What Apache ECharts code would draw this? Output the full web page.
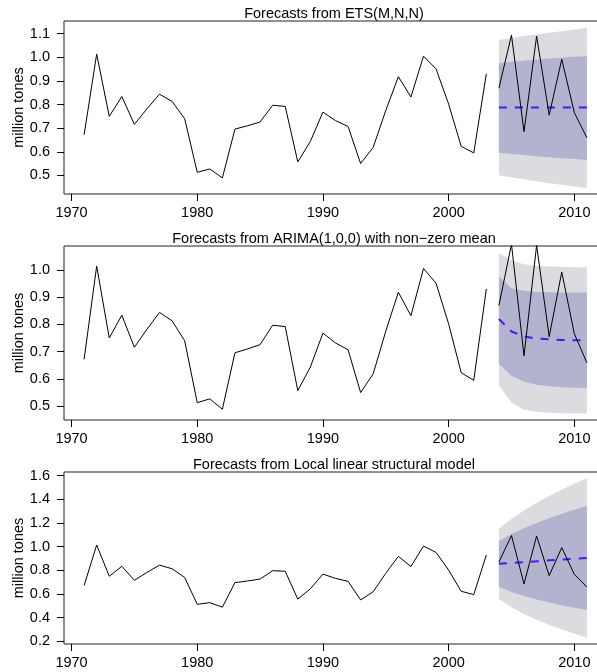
<!DOCTYPE html>
<html>
<head>
<meta charset="utf-8">
<script src="https://cdn.jsdelivr.net/npm/echarts@6/dist/echarts.min.js"></script>
<style>
  html, body { margin: 0; padding: 0; background: #fff; }
  #chart { width: 597px; height: 672px; }
</style>
</head>
<body>
<div id="chart"></div>
<script>
// observed series 1971-2003
var trainYears = [1971, 1972, 1973, 1974, 1975, 1976, 1977, 1978, 1979, 1980, 1981,
  1982, 1983, 1984, 1985, 1986, 1987, 1988, 1989, 1990, 1991, 1992, 1993, 1994,
  1995, 1996, 1997, 1998, 1999, 2000, 2001, 2002, 2003]
var train = [0.672, 1.014, 0.750, 0.834, 0.716, 0.782, 0.844, 0.813, 0.740, 0.513,
  0.527, 0.489, 0.696, 0.710, 0.726, 0.797, 0.792, 0.557, 0.644, 0.768, 0.732,
  0.707, 0.550, 0.619, 0.775, 0.918, 0.832, 1.005, 0.951, 0.802, 0.623, 0.595, 0.930]

// hold-out 2004-2011
var testYears = [2004, 2005, 2006, 2007, 2008, 2009, 2010, 2011]
var test = [0.869, 1.094, 0.685, 1.090, 0.755, 0.992, 0.766, 0.659]

// ETS(M,N,N)
var etsMean = [0.787, 0.787, 0.787, 0.787, 0.787, 0.787, 0.787, 0.787]
var etsLo80 = [0.596, 0.591, 0.586, 0.581, 0.577, 0.573, 0.569, 0.565]
var etsHi80 = [0.975, 0.981, 0.986, 0.991, 0.995, 0.999, 1.002, 1.005]
var etsLo95 = [0.500, 0.491, 0.483, 0.475, 0.467, 0.460, 0.453, 0.446]
var etsHi95 = [1.073, 1.082, 1.090, 1.097, 1.104, 1.111, 1.118, 1.125]

// ARIMA(1,0,0)
var arMean = [0.820, 0.774, 0.756, 0.748, 0.745, 0.743, 0.742, 0.742]
var arLo80 = [0.656, 0.612, 0.591, 0.579, 0.573, 0.570, 0.568, 0.567]
var arHi80 = [0.976, 0.933, 0.923, 0.919, 0.918, 0.917, 0.917, 0.917]
var arLo95 = [0.576, 0.514, 0.487, 0.480, 0.476, 0.474, 0.473, 0.473]
var arHi95 = [1.061, 1.034, 1.021, 1.015, 1.012, 1.011, 1.010, 1.010]

// StructTS local linear trend
var stMean = [0.855, 0.862, 0.869, 0.876, 0.884, 0.891, 0.898, 0.905]
var stLo80 = [0.662, 0.618, 0.583, 0.553, 0.528, 0.505, 0.484, 0.465]
var stHi80 = [1.048, 1.106, 1.155, 1.199, 1.240, 1.277, 1.312, 1.345]
var stLo95 = [0.560, 0.489, 0.432, 0.382, 0.340, 0.301, 0.265, 0.232]
var stHi95 = [1.150, 1.235, 1.306, 1.370, 1.428, 1.481, 1.531, 1.578]

var titles = ['Forecasts from ETS(M,N,N)',
  'Forecasts from ARIMA(1,0,0) with non\u2212zero mean',
  'Forecasts from Local linear structural model']
var xTicks = [1970, 1980, 1990, 2000, 2010]
var yTicks1 = [0.5, 0.6, 0.7, 0.8, 0.9, 1.0, 1.1]
var yTicks2 = [0.5, 0.6, 0.7, 0.8, 0.9, 1.0]
var yTicks3 = [0.2, 0.4, 0.6, 0.8, 1.0, 1.2, 1.4, 1.6]

var FONT = 'Liberation Sans'
var FS = 14.5
var panels = [
  { top: 21, height: 173, ymin: 0.421, ymax: 1.154, ticks: yTicks1,
    fc: [etsMean, etsLo80, etsHi80, etsLo95, etsHi95] },
  { top: 246, height: 174, ymin: 0.4495, ymax: 1.0875, ticks: yTicks2,
    fc: [arMean, arLo80, arHi80, arLo95, arHi95] },
  { top: 472, height: 172, ymin: 0.178, ymax: 1.630, ticks: yTicks3,
    fc: [stMean, stLo80, stHi80, stLo95, stHi95] }
]

function pairs(xs, ys) {
  return xs.map(function (x, i) { return [x, ys[i]] })
}

// a filled band between lo and hi, drawn once as one polygon
function bandSeries(k, lo, hi, color, z) {
  return {
    type: 'custom', xAxisIndex: k, yAxisIndex: k, silent: true, z: z, clip: true,
    data: testYears.map(function (x, i) { return [x, lo[i], hi[i]] }),
    encode: { x: 0, y: [1, 2] },
    renderItem: function (params, api) {
      if (params.dataIndex !== 0) return null
      var pts = []
      testYears.forEach(function (x, i) { pts.push(api.coord([x, hi[i]])) })
      for (var i = testYears.length - 1; i >= 0; i--) pts.push(api.coord([testYears[i], lo[i]]))
      return { type: 'polygon', shape: { points: pts }, style: { fill: color, stroke: null } }
    }
  }
}

var grids = [], xAxes = [], yAxes = [], series = [], titleList = []
panels.forEach(function (p, k) {
  grids.push({ left: 64, top: p.top, width: 543, height: p.height,
    containLabel: false, outerBoundsMode: 'none',
    show: true, borderColor: '#222', borderWidth: 1, backgroundColor: 'transparent' })
  titleList.push({ text: titles[k], left: 334, top: p.top - 15, padding: 0,
    textAlign: 'center',
    textStyle: { fontFamily: FONT, fontSize: FS, fontWeight: 'normal', color: '#000' } })
  xAxes.push({ type: 'value', gridIndex: k, min: 1969.4, max: 2012.6,
    splitLine: { show: false }, axisLine: { show: false },
    axisTick: { show: true, inside: false, length: 7, customValues: xTicks,
      lineStyle: { color: '#000' } },
    axisLabel: { customValues: xTicks, margin: 11, color: '#000',
      fontFamily: FONT, fontSize: FS,
      formatter: function (v) { return String(v) } } })
  yAxes.push({ type: 'value', gridIndex: k, min: p.ymin, max: p.ymax,
    name: 'million tones', nameLocation: 'middle', nameGap: 38, nameMoveOverlap: false,
    nameTextStyle: { fontFamily: FONT, fontSize: FS, color: '#000' },
    splitLine: { show: false }, axisLine: { show: false },
    axisTick: { show: true, inside: false, length: 7, customValues: p.ticks,
      lineStyle: { color: '#000' } },
    axisLabel: { customValues: p.ticks, margin: 14, color: '#000',
      fontFamily: FONT, fontSize: FS,
      formatter: function (v) { return v.toFixed(1) } } })

  var mean = p.fc[0], lo80 = p.fc[1], hi80 = p.fc[2], lo95 = p.fc[3], hi95 = p.fc[4]
  series.push(bandSeries(k, lo95, hi95, '#DBDBE0', 1))
  series.push(bandSeries(k, lo80, hi80, '#B1B3CF', 2))

  series.push({ type: 'line', xAxisIndex: k, yAxisIndex: k, data: pairs(trainYears, train),
    symbol: 'none', lineStyle: { color: '#000', width: 1 }, z: 3 })
  series.push({ type: 'line', xAxisIndex: k, yAxisIndex: k, data: pairs(testYears, mean),
    symbol: 'none', lineStyle: { color: '#5511FF', width: 2, type: [8, 8] }, z: 3 })
  series.push({ type: 'line', xAxisIndex: k, yAxisIndex: k, data: pairs(testYears, test),
    symbol: 'none', lineStyle: { color: '#000', width: 1 }, z: 4 })
})

var chart = echarts.init(document.getElementById('chart'), null, { renderer: 'canvas' })
chart.setOption({
  animation: false,
  backgroundColor: '#fff',
  title: titleList,
  grid: grids,
  xAxis: xAxes,
  yAxis: yAxes,
  series: series
})
</script>
</body>
</html>
